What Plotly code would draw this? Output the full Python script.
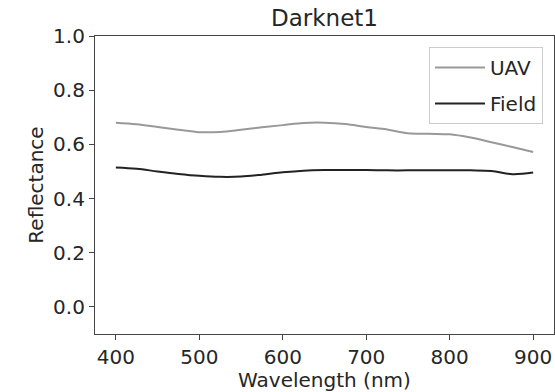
import plotly.graph_objects as go

wavelength = [400, 425, 450, 475, 500, 525, 550, 575, 600, 625, 650, 675, 700,
              725, 750, 775, 800, 825, 850, 875, 900]
uav = [0.680, 0.674, 0.664, 0.654, 0.645, 0.646, 0.654, 0.663, 0.671, 0.679, 0.680,
       0.675, 0.664, 0.655, 0.641, 0.639, 0.637, 0.625, 0.608, 0.590, 0.572]
field = [0.515, 0.510, 0.500, 0.491, 0.484, 0.480, 0.481, 0.488, 0.497, 0.503, 0.505,
         0.505, 0.505, 0.504, 0.504, 0.504, 0.504, 0.504, 0.502, 0.490, 0.496]

x_ticks = [400, 500, 600, 700, 800, 900]
y_ticks = [0.0, 0.2, 0.4, 0.6, 0.8, 1.0]

font_color = "#262626"
fs = 20
fig = go.Figure()
fig.add_trace(go.Scatter(x=wavelength, y=uav, mode="lines", name="UAV", legendgroup="a",
                         line=dict(color="#999999", width=2, shape="spline")))
fig.add_trace(go.Scatter(x=wavelength, y=field, mode="lines", name="Field", legendgroup="b",
                         line=dict(color="#222222", width=2, shape="spline")))

axis_common = dict(showline=True, linecolor="#444444", linewidth=1.2, mirror=True,
                   ticks="outside", ticklen=5, tickcolor="#444444", showgrid=False,
                   zeroline=False, automargin=False,
                   tickfont=dict(size=fs, color=font_color))
fig.update_xaxes(range=[375, 925], tickvals=x_ticks,
                 title=dict(text="Wavelength (nm)", font=dict(size=fs, color=font_color),
                            standoff=2), **axis_common)
fig.update_yaxes(range=[-0.1, 1.0], tickvals=y_ticks, tickformat=".1f",
                 title=dict(text="Reflectance", font=dict(size=fs, color=font_color),
                            standoff=4), **axis_common)

fig.update_layout(
    width=555, height=392,
    margin=dict(l=95, r=1, t=36, b=58),
    paper_bgcolor="white", plot_bgcolor="white",
    font=dict(family="DejaVu Sans", color=font_color),
    title=dict(text="Darknet1", x=0.5, xref="paper", y=1 - 18 / 392, yref="container",
               yanchor="middle", xanchor="center", font=dict(size=23, color=font_color)),
    legend=dict(x=0.976, y=0.963, xanchor="right", yanchor="top",
                bordercolor="#cccccc", borderwidth=1, bgcolor="white",
                font=dict(size=fs, color=font_color), tracegroupgap=7,
                traceorder="grouped", itemwidth=50),
    showlegend=True,
)

fig.write_html("out.html", config={"displayModeBar": False},
               post_script="document.body.style.margin='0';document.body.style.padding='0';")
